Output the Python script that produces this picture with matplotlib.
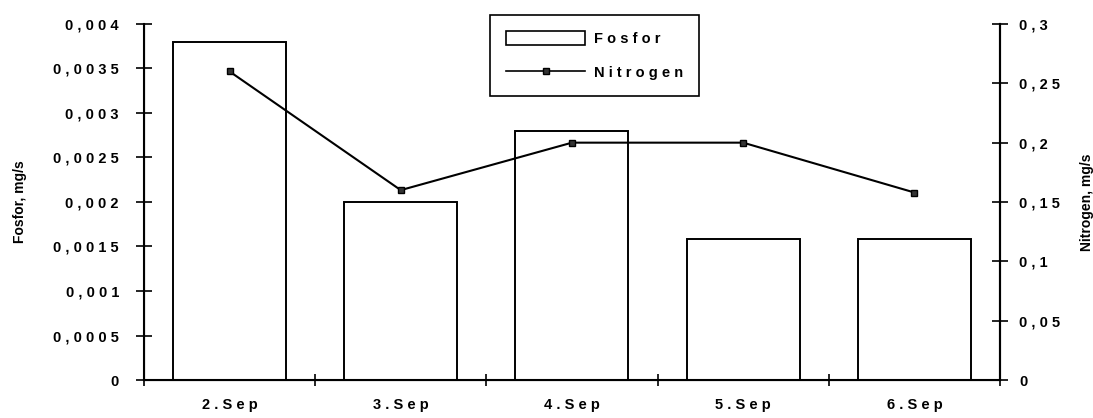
import matplotlib.pyplot as plt
from matplotlib.patches import Patch
from matplotlib.lines import Line2D
from matplotlib.ticker import FuncFormatter

plt.rcParams['font.family'] = ['Liberation Sans', 'DejaVu Sans']

days = ['2.Sep', '3.Sep', '4.Sep', '5.Sep', '6.Sep']
fosfor = [0.0038, 0.002, 0.0028, 0.00158, 0.00158]
nitrogen = [0.26, 0.16, 0.2, 0.2, 0.158]


def spaced(s):
    # old-style wide letter spacing
    return ' '.join(s)


def comma(v, pos, nd=4):
    if abs(v) < 1e-12:
        return '0'
    s = ('%.*f' % (nd, v)).rstrip('0')
    return spaced(s.replace('.', ','))


fig = plt.figure(figsize=(10.93, 4.18), dpi=100)
ax = fig.add_axes([0.1317, 0.0909, 0.7832, 0.8517])
x = list(range(len(days)))

ax.bar(x, fosfor, width=0.66, color='white', edgecolor='black', linewidth=1.4, zorder=2)
ax.set_xlim(-0.5, 4.5)
ax.set_ylim(0, 0.004)
ax.set_yticks([i * 0.0005 for i in range(9)])
ax.yaxis.set_major_formatter(FuncFormatter(comma))
ax.set_xticks(x)
ax.set_xticklabels([spaced(d) for d in days])
ax.set_xticks([i - 0.5 for i in range(6)], minor=True)
ax.tick_params(axis='x', which='major', length=0, pad=13, labelsize=10.5)
ax.tick_params(axis='x', which='minor', direction='inout', length=8, width=1.2)
ax.tick_params(axis='y', direction='inout', length=12, width=1.2, labelsize=10.5, pad=12)
ax.spines['top'].set_visible(False)
for s in ['left', 'bottom', 'right']:
    ax.spines[s].set_linewidth(1.5)
ax.set_ylabel('Fosfor, mg/s', fontweight='bold', fontsize=10, labelpad=19)

ax2 = ax.twinx()
ax2.plot(x, nitrogen, color='black', linewidth=1.5, marker='s', markersize=5,
         markerfacecolor='#333333', markeredgecolor='black', zorder=3)
ax2.set_ylim(0, 0.3)
ax2.set_yticks([i * 0.05 for i in range(7)])
ax2.yaxis.set_major_formatter(FuncFormatter(lambda v, p: comma(v, p, 2)))
ax2.tick_params(axis='y', direction='inout', length=12, width=1.2, labelsize=10.5, pad=8)
ax2.spines['top'].set_visible(False)
ax2.spines['right'].set_linewidth(1.5)
ax2.set_ylabel('Nitrogen, mg/s', fontweight='bold', fontsize=10, labelpad=14)

for t in ax.get_yticklabels() + ax2.get_yticklabels() + ax.get_xticklabels():
    t.set_fontweight('bold')

handles = [Patch(facecolor='white', edgecolor='black', linewidth=1.2),
           Line2D([], [], color='black', linewidth=1.2, marker='s', markersize=4,
                  markerfacecolor='#333333')]
leg = ax.legend(handles, [spaced('Fosfor'), spaced('Nitrogen')], loc='upper left',
                bbox_to_anchor=(0.396, 1.045), fancybox=False, edgecolor='black',
                framealpha=1, fontsize=10.5, handlelength=5.4, handleheight=1.1,
                borderpad=1.1, labelspacing=1.3, handletextpad=0.6,
                prop={'weight': 'bold', 'size': 10.5})
leg.get_frame().set_linewidth(1.2)
leg.set_zorder(5)

fig.savefig('out.png', dpi=100)
